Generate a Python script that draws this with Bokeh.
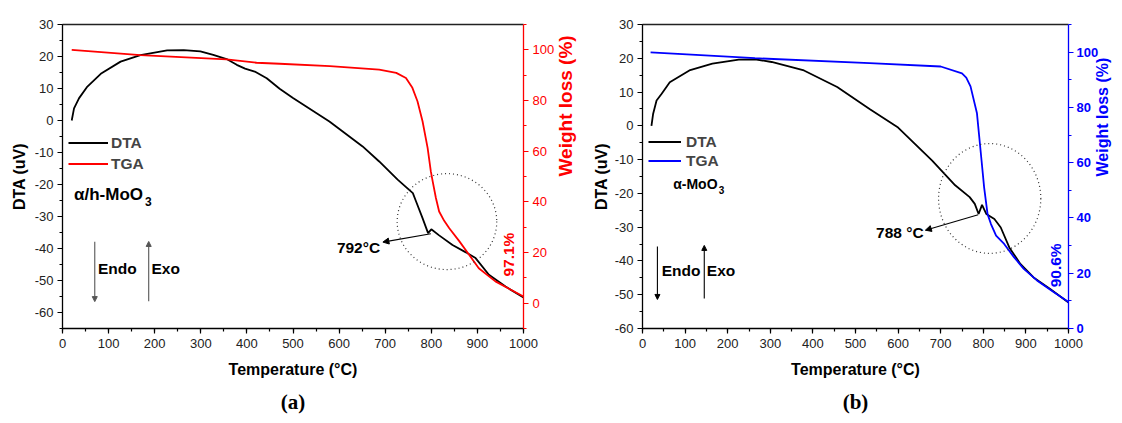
import math
from bokeh.plotting import figure
from bokeh.models import (Range1d, LinearAxis, SingleIntervalTicker, FixedTicker,
                          Legend, LegendItem, Arrow, NormalHead, Label, Title,
                          PrintfTickFormatter)
from bokeh.layouts import row
from bokeh.embed import file_html
from bokeh.resources import INLINE

# ---------------- data ----------------
# panel (a): alpha/h-MoO3
a_temp_dta = [20, 25, 36, 54, 83, 126, 169, 227, 263, 299, 327, 356, 378, 396, 417, 443, 471,
              500, 579, 651, 687, 727, 760, 767, 781, 793, 800, 817, 846, 875, 896, 925, 961, 1000]
a_dta = [0, 3.8, 7, 10.6, 14.6, 18.4, 20.4, 21.9, 22, 21.6, 20.5, 19.2, 17.4, 16.2, 15.3, 13.2, 9.9,
         7.0, -0.3, -8.1, -12.8, -18.5, -22.7, -25.3, -30.5, -35.2, -34.0, -35.9, -38.9, -41.2, -43.0,
         -48.2, -51.9, -55.3]
a_temp_tga = [20, 169, 356, 421, 471, 580, 687, 724, 745, 759, 770, 781, 792, 799, 803, 810, 817,
              828, 839, 861, 882, 903, 939, 1000]
a_tga = [100, 97.9, 96.2, 94.9, 94.5, 93.6, 92.2, 90.9, 88.9, 85.0, 79.7, 71.8, 61.3, 52, 48.1, 41.5,
         36.2, 32.5, 29.6, 24.4, 19.1, 13.8, 8.6, 2.6]

# panel (b): alpha-MoO3
b_temp_dta = [21, 25, 33, 45, 64, 110, 164, 226, 264, 303, 379, 457, 533, 600, 680, 734, 768, 780,
              789, 797, 807, 826, 841, 861, 887, 918, 957, 1000]
b_dta = [0, 3.6, 7.5, 9.5, 12.9, 16.4, 18.4, 19.6, 19.7, 18.9, 16.4, 11.5, 5, -0.5, -10.3, -17.6,
         -21.1, -23.1, -26.1, -23.4, -26.1, -27.6, -30.1, -36, -40.9, -44.9, -48.3, -52.3]
b_temp_tga = [19, 264, 533, 700, 750, 760, 770, 785, 796, 802, 810, 818, 830, 849, 872, 895, 926,
              965, 1000]
b_tga = [99.9, 97.8, 96, 94.8, 92.3, 90.8, 87.6, 78, 60.6, 51, 41.4, 37.8, 33.6, 30.6, 25.8, 21.6,
         17.4, 13.2, 9.6]

series_names = ["DTA", "TGA"]

FONT = "Liberation Sans"
SERIF = "Liberation Serif"
HEIGHT = 423


def style_axis(ax, color, label_color=None, bold_ticks=False, standoff=5, tick_out=5):
    ax.axis_line_color = color
    ax.axis_line_width = 1.3
    ax.major_tick_line_color = color
    ax.minor_tick_line_color = color
    ax.major_tick_line_width = 1.2
    ax.minor_tick_line_width = 1.2
    ax.major_tick_in = 0
    ax.major_tick_out = tick_out
    ax.minor_tick_in = 0
    ax.minor_tick_out = 3
    ax.formatter = PrintfTickFormatter(format="%d")
    ax.major_label_text_font = FONT
    ax.major_label_text_font_size = "13px"
    ax.major_label_text_color = label_color or color
    ax.major_label_text_font_style = "bold" if bold_ticks else "normal"
    ax.major_label_standoff = standoff
    ax.axis_label_text_font = FONT
    ax.axis_label_text_font_size = "16px"
    ax.axis_label_text_font_style = "bold"
    ax.axis_label_text_color = "black"


def panel(width, mb_left, mb_right, mb_top, frame_h, y_lo, y_hi, w_lo, w_hi, color, bold_right,
          wl_size, wl_standoff, dta_standoff, r_tick_standoff):
    p = figure(width=width, height=HEIGHT, x_range=Range1d(0, 1000), y_range=Range1d(y_lo, y_hi),
               output_backend="svg", toolbar_location=None,
               min_border_left=mb_left, min_border_right=mb_right,
               min_border_top=mb_top, min_border_bottom=HEIGHT - mb_top - frame_h)
    p.outline_line_color = None
    p.xgrid.visible = False
    p.ygrid.visible = False
    p.background_fill_color = "white"
    p.border_fill_color = "white"
    p.extra_y_ranges = {"w": Range1d(w_lo, w_hi)}

    p.xaxis.ticker = SingleIntervalTicker(interval=100, num_minor_ticks=2)
    p.yaxis.ticker = SingleIntervalTicker(interval=10, num_minor_ticks=2)
    p.xaxis.axis_label = "Temperature (°C)"
    p.yaxis.axis_label = "DTA (uV)"
    style_axis(p.xaxis[0], "black", "#222222", standoff=5)
    style_axis(p.yaxis[0], "black", "#222222", standoff=4)
    p.xaxis[0].axis_label_standoff = 10
    p.yaxis[0].axis_label_standoff = dta_standoff

    rax = LinearAxis(y_range_name="w",
                     ticker=SingleIntervalTicker(interval=20, num_minor_ticks=2))
    style_axis(rax, color, color, bold_ticks=bold_right, standoff=r_tick_standoff, tick_out=5)
    rax.axis_label = "Weight loss (%)"
    rax.axis_label_text_color = color
    rax.axis_label_text_font_size = wl_size
    rax.axis_label_standoff = wl_standoff
    if "axis_label_orientation" in rax.properties():
        rax.axis_label_orientation = math.pi / 2
    p.add_layout(rax, "right")

    top = LinearAxis(ticker=FixedTicker(ticks=[]), axis_line_color="#222222",
                     axis_line_width=1.3, major_tick_line_color=None, minor_tick_line_color=None)
    p.add_layout(top, "above")
    return p


def legend_for(p, r1, r2, loc, gw, gh, standoff, size):
    lg = Legend(items=[LegendItem(label=series_names[0], renderers=[r1]),
                       LegendItem(label=series_names[1], renderers=[r2])],
                location=loc, orientation="vertical", background_fill_alpha=0,
                border_line_color=None, label_text_font=FONT, label_text_font_size=size,
                label_text_font_style="bold", glyph_width=gw, glyph_height=gh, label_height=gh,
                spacing=0, padding=0, margin=0, label_standoff=standoff)
    p.add_layout(lg)


def txt(p, x, y, t, color="black", size="15.5px", align="left", angle=0, bold=True):
    p.add_layout(Label(x=x, y=y, text=t, text_color=color, text_font=FONT,
                       text_font_size=size, text_font_style="bold" if bold else "normal",
                       text_align=align, text_baseline="middle", angle=angle))


def arrow(p, x0, y0, x1, y1, color="black", size=6):
    p.add_layout(Arrow(end=NormalHead(size=size, fill_color=color, line_color=color),
                       x_start=x0, y_start=y0, x_end=x1, y_end=y1,
                       line_color=color, line_width=1.1))


def caption(p, letter):
    p.add_layout(Title(text=letter, align="center", text_font=SERIF, text_font_size="21px",
                       text_font_style="bold", text_color="black", standoff=15), "below")


# ---------------- panel (a) ----------------
RED = "#ff0000"
pa = panel(589, 62, 64, 23, 305, -65, 30, -10, 110, RED, False, "19px", 8, 4, 4)
ra1 = pa.line(a_temp_dta, a_dta, line_color="black", line_width=1.8)
ra2 = pa.line(a_temp_tga, a_tga, line_color=RED, line_width=1.8, y_range_name="w")
legend_for(pa, ra1, ra2, (6, 154), 40, 21, 3, "15.5px")
pa.ellipse(x=[834], y=[-31.6], width=216, height=30, fill_color=None, line_color="#333333",
           line_dash="1 3", line_width=1.2)
arrow(pa, 799, -35.4, 695, -38)
txt(pa, 689, -39.7, "792°C", align="right")
txt(pa, 968, -41.9, "97.1%", color=RED, align="center", angle=math.pi / 2)
arrow(pa, 70, -37.9, 70, -56.6, color="#555555", size=5)
arrow(pa, 187, -56.5, 187, -37.8, color="#555555", size=5)
txt(pa, 77, -46.1, "Endo")
txt(pa, 193, -46.1, "Exo")
txt(pa, 25, -23, "α/h-MoO", size="17px")
txt(pa, 179, -25.2, "3", size="12px")
caption(pa, "(a)")

# ---------------- panel (b) ----------------
BLUE = "#0000ff"
pb = panel(533, 50, 50, 24, 304, -60, 30, 0, 110, BLUE, True, "16px", 1, 2, 3)
rb1 = pb.line(b_temp_dta, b_dta, line_color="black", line_width=1.8)
rb2 = pb.line(b_temp_tga, b_tga, line_color=BLUE, line_width=1.8, y_range_name="w")
legend_for(pb, rb1, rb2, (6, 158), 33, 19, 5, "15.5px")
pb.ellipse(x=[815], y=[-21.5], width=240, height=32.5, fill_color=None, line_color="#333333",
           line_dash="1 3", line_width=1.2)
arrow(pb, 788, -26.3, 664, -30.9)
txt(pb, 660, -31.7, "788 °C", align="right")
txt(pb, 970, -41.3, "90.6%", color=BLUE, align="center", angle=math.pi / 2)
arrow(pb, 35, -35.7, 35, -51.4, size=5)
arrow(pb, 145, -51.1, 145, -35.4, size=5)
txt(pb, 45, -42.8, "Endo")
txt(pb, 151, -42.8, "Exo")
txt(pb, 72, -17.1, "α-MoO", size="14px")
txt(pb, 179, -18.9, "3", size="10px")
caption(pb, "(b)")

layout = row(pa, pb)
open("out.html", "w").write(file_html(layout, INLINE))
